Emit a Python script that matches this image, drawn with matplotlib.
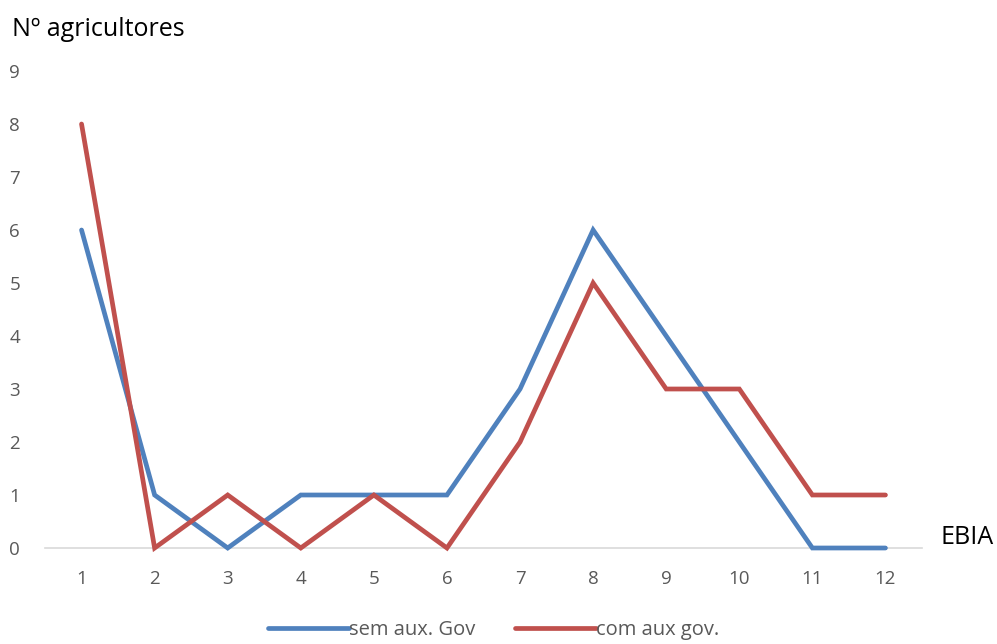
import matplotlib
matplotlib.use("Agg")
import matplotlib.pyplot as plt

# data
ebia = [1, 2, 3, 4, 5, 6, 7, 8, 9, 10, 11, 12]
sem_aux = [6, 1, 0, 1, 1, 1, 3, 6, 4, 2, 0, 0]
com_aux = [8, 0, 1, 0, 1, 0, 2, 5, 3, 3, 1, 1]
y_ticks = list(range(0, 10))

plt.rcParams['font.family'] = ['Open Sans', 'DejaVu Sans']

W, H = 997, 644
fig = plt.figure(figsize=(W / 100, H / 100), dpi=100)
ax = fig.add_axes([45 / W, 96 / H, 877 / W, 477 / H])

blue = '#4F81BD'
red = '#C0504D'
gray = '#595959'

ax.plot(ebia, sem_aux, color=blue, lw=3.4, solid_capstyle='round', solid_joinstyle='miter',
        label='sem aux. Gov', clip_on=False, zorder=3)
ax.plot(ebia, com_aux, color=red, lw=3.4, solid_capstyle='round', solid_joinstyle='miter',
        label='com aux gov.', clip_on=False, zorder=3)

ax.set_xlim(0.5, 12.5)
ax.set_ylim(0, 9)
ax.set_xticks(ebia)
ax.set_xticklabels([str(v) for v in ebia])
ax.set_yticks(y_ticks)

for s in ['top', 'right', 'left']:
    ax.spines[s].set_visible(False)
ax.spines['bottom'].set_color('#D9D9D9')
ax.spines['bottom'].set_linewidth(1.2)
ax.tick_params(axis='both', length=0, labelsize=13.5, labelcolor=gray)
ax.tick_params(axis='x', pad=16)
ax.tick_params(axis='y', pad=18)

fig.text(12 / W, 1 - 30 / H, 'Nº agricultores', fontsize=18, color='black', va='center', ha='left')
fig.text(940 / W, 1 - 537 / H, 'EBIA', fontsize=18, color='black', va='center', ha='left')

leg = fig.legend(loc='center', bbox_to_anchor=(0.495, 1 - 630 / H), ncol=2, frameon=False,
                 fontsize=14.5, handlelength=4.0, handletextpad=0.0, columnspacing=2.0)
for t in leg.get_texts():
    t.set_color(gray)

fig.savefig('out.png', dpi=100)
